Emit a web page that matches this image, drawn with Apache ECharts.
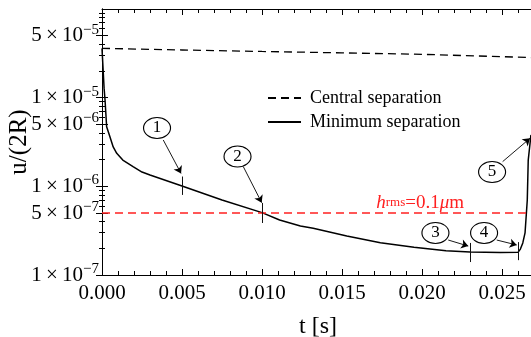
<!DOCTYPE html>
<html><head><meta charset="utf-8">
<script src="https://cdn.jsdelivr.net/npm/echarts@6/dist/echarts.min.js"></script>
<style>html,body{margin:0;padding:0;background:#fff}#c{width:531px;height:337px}</style>
</head><body><div id="c"></div>
<script>
// ---- data ----
const timeCentral = [0, 0.005, 0.010, 0.015, 0.020, 0.027];
const uCentral = [3.6e-5, 3.45e-5, 3.32e-5, 3.2e-5, 3.08e-5, 2.83e-5];
const timeMinimum = [0, 0.00013, 0.00019, 0.00029, 0.0005, 0.0007, 0.00092, 0.0013, 0.00194, 0.0025, 0.003, 0.005, 0.0075, 0.010, 0.0111, 0.0124, 0.0132, 0.0153, 0.0174, 0.0195, 0.0215, 0.023, 0.0249, 0.026, 0.02615, 0.0263, 0.02644, 0.02658, 0.02664, 0.02681];
const uMinimum = [3.6e-5, 1.28e-5, 9.4e-6, 4.7e-6, 3.6e-6, 2.78e-6, 2.36e-6, 1.98e-6, 1.67e-6, 1.45e-6, 1.34e-6, 1.01e-6, 7.0e-7, 5.05e-7, 4.17e-7, 3.57e-7, 3.37e-7, 2.76e-7, 2.31e-7, 2.05e-7, 1.88e-7, 1.82e-7, 1.79e-7, 1.8e-7, 1.96e-7, 2.3e-7, 2.98e-7, 7.0e-7, 1.98e-6, 3.8e-6];
const hRms = 5e-7;
const xTickLabels = [0, 0.005, 0.010, 0.015, 0.020, 0.025];
const xMinorTicks = [0.001,0.002,0.003,0.004,0.006,0.007,0.008,0.009,0.011,0.012,0.013,0.014,0.016,0.017,0.018,0.019,0.021,0.022,0.023,0.024,0.026];
const yTickLabels = [1e-7, 5e-7, 1e-6, 5e-6, 1e-5, 5e-5];
const yMinorTicks = [2e-7,3e-7,4e-7,6e-7,7e-7,8e-7,9e-7,2e-6,3e-6,4e-6,6e-6,7e-6,8e-6,9e-6,2e-5,3e-5,4e-5,6e-5,7e-5,8e-5,9e-5];
const markerTimes = [0.005, 0.010, 0.023, 0.026];
const circleLabels = ['1', '2', '3', '4', '5'];
const seriesNames = ['Central separation', 'Minimum separation'];

// ---- annotation anchors (data coordinates) ----
const circleAt = [[0.00344, 4.55e-6], [0.00847, 2.17e-6], [0.02084, 2.98e-7], [0.02388, 2.98e-7], [0.02438, 1.45e-6]];
const arrowFrom = [[0.00383, 3.33e-6], [0.00883, 1.67e-6], [0.02164, 2.48e-7], [0.02467, 2.48e-7], [0.02504, 1.9e-6]];
const arrowTo = [[0.00494, 1.40e-6], [0.00998, 6.55e-7], [0.02289, 2.12e-7], [0.02592, 2.18e-7], [0.02675, 3.48e-6]];
const markerSpan = [[1.29e-6, 8.0e-7], [6.49e-7, 3.86e-7], [2.30e-7, 1.40e-7], [2.35e-7, 1.47e-7]];

const FONT = 'Liberation Serif';
const RED = '#ff2020';
const zip = (a, b) => a.map((v, i) => [v, b[i]]);

function yLabel(v) {
  const e = Math.floor(Math.log10(v) + 1e-9);
  const m = Math.round(v / Math.pow(10, e));
  return '{n|' + m + '\u2009\u00d7\u200910}{s|\u2212' + (-e) + '}';
}

const xBase = { type: 'value', min: 0, max: 0.027, splitLine: { show: false } };
const yBase = { type: 'log', logBase: 10, min: 1e-7, max: 1e-4, splitLine: { show: false } };
const line = { show: true, lineStyle: { color: '#000', width: 1 } };

const chart = echarts.init(document.getElementById('c'));
chart.setOption({
  animation: false,
  backgroundColor: '#fff',
  grid: { left: 102, right: -3, top: 9, bottom: 62, outerBoundsMode: 'none', containLabel: false },
  legend: {
    data: seriesNames, orient: 'vertical', left: 262, top: 84,
    itemWidth: 33, itemHeight: 0.1, itemGap: 6,
    itemStyle: { opacity: 0 },
    textStyle: { fontFamily: FONT, fontSize: 18, color: '#000', padding: [0, 0, 0, 4] }
  },
  xAxis: [
    Object.assign({}, xBase, {
      position: 'bottom', axisLine: line,
      name: 't [s]', nameLocation: 'middle', nameGap: 40,
      nameTextStyle: { fontFamily: FONT, fontSize: 24, color: '#000' },
      axisTick: { show: true, inside: true, length: 6, customValues: xTickLabels, lineStyle: { color: '#000' } },
      axisLabel: { customValues: xTickLabels, formatter: v => v.toFixed(3), fontFamily: FONT, fontSize: 21, color: '#000', margin: 8 }
    }),
    Object.assign({}, xBase, {
      position: 'bottom', axisLine: { show: false },
      axisTick: { show: true, inside: true, length: 4, customValues: xMinorTicks, lineStyle: { color: '#000' } },
      axisLabel: { show: false }
    }),
    Object.assign({}, xBase, {
      position: 'top', axisLine: line,
      axisTick: { show: true, inside: true, length: 6, customValues: xTickLabels, lineStyle: { color: '#000' } },
      axisLabel: { show: false }
    }),
    Object.assign({}, xBase, {
      position: 'top', axisLine: { show: false },
      axisTick: { show: true, inside: true, length: 4, customValues: xMinorTicks, lineStyle: { color: '#000' } },
      axisLabel: { show: false }
    })
  ],
  yAxis: [
    Object.assign({}, yBase, {
      position: 'left', axisLine: line,
      name: 'u/(2R)', nameLocation: 'middle', nameGap: 70, nameRotate: 90, nameMoveOverlap: false,
      nameTextStyle: { fontFamily: FONT, fontSize: 25, color: '#000' },
      axisTick: { show: true, inside: true, length: 6, customValues: yTickLabels, lineStyle: { color: '#000' } },
      axisLabel: {
        customValues: yTickLabels, formatter: yLabel, margin: 3,
        rich: {
          n: { fontFamily: FONT, fontSize: 21, color: '#000', lineHeight: 22 },
          s: { fontFamily: FONT, fontSize: 15, color: '#000', lineHeight: 15, padding: [0, 0, 12, 0] }
        }
      }
    }),
    Object.assign({}, yBase, {
      position: 'left', axisLine: { show: false },
      axisTick: { show: true, inside: true, length: 3, customValues: yMinorTicks, lineStyle: { color: '#000' } },
      axisLabel: { show: false }
    }),
    Object.assign({}, yBase, {
      position: 'right', axisLine: line,
      axisTick: { show: true, inside: true, length: 6, customValues: yTickLabels, lineStyle: { color: '#000' } },
      axisLabel: { show: false }
    }),
    Object.assign({}, yBase, {
      position: 'right', axisLine: { show: false },
      axisTick: { show: true, inside: true, length: 3, customValues: yMinorTicks, lineStyle: { color: '#000' } },
      axisLabel: { show: false }
    })
  ],
  series: [
    {
      name: seriesNames[0], type: 'line', symbol: 'none', data: zip(timeCentral, uCentral),
      lineStyle: { color: '#000', width: 1.3, type: [8, 5] }, itemStyle: { color: '#000' },
      markLine: {
        silent: true, symbol: ['none', 'none'], label: { show: false },
        lineStyle: { color: '#111', width: 1, type: 'solid' },
        data: markerTimes.map((t, i) => [{ coord: [t, markerSpan[i][0]] }, { coord: [t, markerSpan[i][1]] }])
      }
    },
    {
      name: seriesNames[1], type: 'line', symbol: 'none', data: zip(timeMinimum, uMinimum),
      lineStyle: { color: '#000', width: 1.5 }, itemStyle: { color: '#000' },
      markLine: {
        silent: true, symbol: ['none', 'arrow'], symbolSize: 7, label: { show: false },
        lineStyle: { color: '#000', width: 0.9, type: 'solid' },
        data: arrowFrom.map((p, i) => [{ coord: p }, { coord: arrowTo[i] }])
      },
      markPoint: {
        silent: true,
        symbol: 'path://M0 50A50 50 0 1 0 100 50A50 50 0 1 0 0 50Z',
        symbolSize: [27, 21], symbolKeepAspect: false,
        itemStyle: { color: '#fff', borderColor: '#000', borderWidth: 1 },
        label: { show: true, position: 'inside', formatter: p => p.name, fontFamily: FONT, fontSize: 17, color: '#000' },
        data: circleAt.map((c, i) => ({ name: circleLabels[i], coord: c }))
      }
    },
    {
      name: 'hrms', type: 'line', symbol: 'none', data: [[0, hRms], [0.027, hRms]],
      lineStyle: { color: RED, width: 1.5, type: [8, 5] },
      markPoint: {
        silent: true, symbol: 'rect', symbolSize: 1,
        itemStyle: { color: 'rgba(0,0,0,0)' },
        label: {
          show: true, position: 'inside',
          formatter: '{i|h}{sub|rms}{r|=0.1}{i|\u03bc}{r|m}',
          rich: {
            i: { fontFamily: FONT, fontSize: 19, fontStyle: 'italic', color: RED, lineHeight: 22 },
            r: { fontFamily: FONT, fontSize: 19, color: RED, lineHeight: 22 },
            sub: { fontFamily: FONT, fontSize: 13, color: RED, lineHeight: 13 }
          }
        },
        data: [{ coord: [0.01988, 6.54e-7] }]
      }
    }
  ]
});
</script></body></html>
